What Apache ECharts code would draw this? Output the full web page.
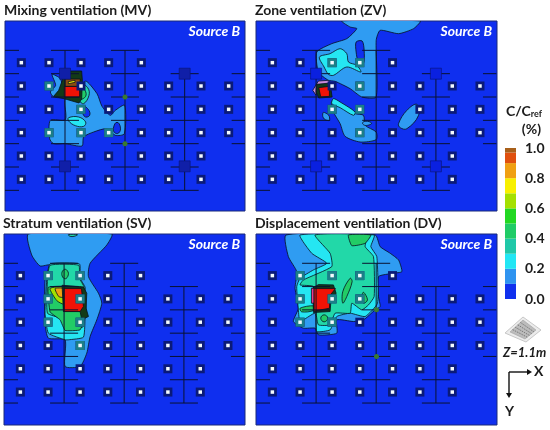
<!DOCTYPE html>
<html><head><meta charset="utf-8">
<style>html,body{margin:0;padding:0;background:#fff}#c{width:550px;height:430px}</style>
<script src="https://cdn.jsdelivr.net/npm/echarts@6/dist/echarts.min.js"></script>
</head><body><div id="c"></div>
<script>
// ---- colours for concentration levels, low to high
const BG='#0f2fef', L1='#2f9cf2', L2='#25e6f2', L3='#22d8a8', L4='#22cc66', L5='#22d822', L6='#a4e000', L7='#f6ee00', L8='#f0a012', RED='#f01206', BROWN='#8a4a12', DARK='#123a18';

// ---- panel titles
const panelTitles=['Mixing ventilation (MV)','Zone ventilation (ZV)','Stratum ventilation (SV)','Displacement ventilation (DV)'];
const sourceLabel='Source B';

// ---- room layout in room units
const diffuserCols=[49,132,228,311,409,491,588,671];
const diffuserRows=[125,195,265,335,405,475];
const colsPerRow=[5,8,8,8,7,7];
const ductCols=[180,360,539];
const ductRows=[88,158,228,298,368,438,508];
const supplyUnits=[[180,158],[539,158],[180,436],[539,436]];
const sensorsMV=[[360,228],[360,368]];
const sensorsDV=[[361,228],[361,368]];
// diffusers sitting inside the plume: [column index, row index]
const tintedMV=[[1,1],[1,3],[2,2],[2,3],[3,3]];
const tintedZV=[[2,0],[3,0],[3,1],[2,2],[3,2],[3,3]];
const tintedSV=[[1,0],[2,0],[1,1],[2,1],[1,2],[2,2],[2,3]];
const tintedDV=[[1,0],[2,0],[3,0],[1,1],[2,1],[3,1],[1,2],[2,2]];

// ---- contour polygons: [colour, smooth, points]
const contoursMV=[
 [L1,0.25,[[195,295],[195,358],[150,360],[148,415],[160,430],[195,430],[245,437],[250,410],[280,395],[320,385],[345,405],[372,400],[373,315],[345,330],[330,345],[305,318],[290,280],[255,242],[240,290]]],
 [L1,0.2,[[155,222],[180,235],[192,290],[160,290],[150,275],[166,255]]],
 [BG,0.5,[[245,318],[262,325],[268,345],[252,348]]],
 [BG,0.5,[[350,366],[360,380],[355,398],[342,396],[340,380]]],
 [L2,0.4,[[205,352],[235,350],[256,365],[250,378],[225,376],[205,362]]],
 [L3,0.4,[[240,250],[262,262],[266,285],[250,310],[238,300]]],
 [L4,0.4,[[240,262],[254,270],[256,288],[240,296]]],
 [DARK,0,[[182,212],[244,212],[246,240],[244,296],[236,308],[195,296],[160,288],[175,270],[186,240]]],
 [RED,0,[[192,258],[238,258],[238,290],[192,290]]],
 [BROWN,0,[[194,236],[240,236],[238,258],[194,258]]],
 [L7,0,[[204,244],[224,240],[224,246],[204,250]]],
];
const contoursZV=[
 [L1,0.2,[[275,62],[510,62],[490,85],[445,100],[390,90],[378,120],[378,290],[335,290],[300,265],[255,243],[235,240],[205,215],[200,155],[245,130],[290,115],[320,85],[300,80]]],
 [BG,0.3,[[318,125],[336,122],[342,150],[340,190],[325,185],[318,155]]],
 [L2,0.3,[[208,170],[240,160],[270,145],[290,160],[295,185],[320,195],[332,215],[290,200],[250,225],[235,222],[222,200]]],
 [L1,0.25,[[245,305],[315,340],[340,345],[345,375],[378,395],[378,418],[330,425],[285,408],[270,370],[250,335]]],
 [L2,0.3,[[250,295],[270,305],[315,335],[310,345],[270,322],[245,310]]],
 [L1,0.5,[[338,366],[352,363],[364,369],[352,375],[340,373]]],
 [L1,0.3,[[220,336],[236,345],[238,360],[225,358],[218,348]]],
 [L1,0.4,[[445,370],[470,330],[500,312],[505,345],[470,385],[450,382]]],
 ['#c98ad8',0,[[188,270],[205,242],[235,240],[240,250],[205,255],[198,285]]],
 [DARK,0,[[200,252],[240,248],[246,290],[206,293],[198,275]]],
 [RED,0,[[206,262],[238,258],[238,288],[212,290]]],
];
const contoursSV=[
 [L1,0.2,[[85,62],[335,62],[320,95],[270,150],[265,190],[295,240],[305,270],[290,320],[270,370],[260,420],[240,460],[195,460],[195,380],[145,375],[135,330],[135,200],[150,155],[120,158],[95,125]]],
 [L3,0.4,[[205,64],[232,64],[222,69],[210,69]]],
 [L2,0.15,[[150,152],[238,152],[240,195],[255,222],[255,300],[250,372],[205,380],[195,380],[145,360],[135,300],[140,200]]],
 [L3,0.15,[[150,156],[236,156],[238,195],[252,222],[250,340],[200,345],[180,315],[142,300],[142,205]]],
 [L4,0.4,[[186,176],[196,168],[205,180],[198,196],[188,192]]],
 [L4,0.1,[[145,222],[250,222],[258,300],[240,350],[195,352],[180,320],[150,296]]],
 [L6,0.2,[[150,226],[190,222],[190,272],[170,262]]],
 [L8,0.2,[[165,226],[190,226],[190,252],[176,250]]],
 [DARK,0,[[186,216],[250,222],[260,240],[258,285],[265,310],[245,320],[240,295],[190,295]]],
 [RED,0,[[192,226],[244,226],[250,280],[240,295],[192,295]]],
];
const contoursDV=[
 [L1,0.18,[[108,65],[375,65],[390,100],[420,120],[445,140],[455,175],[430,180],[385,190],[385,250],[390,280],[375,290],[340,320],[310,325],[260,320],[260,360],[205,365],[195,345],[160,345],[130,325],[145,285],[135,225],[140,175],[115,130]]],
 [L2,0.15,[[150,65],[372,65],[362,100],[380,130],[382,270],[345,310],[300,300],[260,310],[240,350],[200,355],[195,300],[150,325],[145,290],[140,220],[150,195],[190,170],[230,150],[185,120]]],
 [L3,0.15,[[195,65],[350,65],[345,100],[370,130],[372,250],[355,275],[335,290],[305,270],[300,300],[255,300],[240,335],[205,335],[198,300],[190,220],[150,215],[160,200],[245,160],[240,120]]],
 [L4,0.15,[[295,65],[362,65],[345,90],[305,97]]],
 [L4,0.35,[[300,195],[306,205],[290,250],[278,270],[278,235]]],
 [L4,0.35,[[340,237],[352,260],[340,270],[335,250]]],
 [L4,0.3,[[150,285],[190,278],[190,292],[155,296]]],
 [L4,0.5,[[222,305],[233,315],[222,326],[212,315]]],
 [DARK,0,[[188,224],[205,214],[250,215],[258,240],[242,270],[240,295],[190,298]]],
 ['#ee3a8a',0,[[184,225],[192,225],[192,270],[184,270]]],
 [RED,0,[[192,226],[256,226],[240,246],[238,285],[192,294]]],
];

// ---- colour bar, bottom to top
const barColors=['#1030ee','#2f94f0','#22e6f4','#20c8a8','#20cc66','#22d822','#a4e000','#f8f000','#f0a012','#e0500e','#a8601a'];
const barShares=[0.1,0.1,0.1,0.1,0.1,0.1,0.1,0.1,0.1,0.07,0.03];

// ---- panel placement: pixel box and the room extent it shows
const panels=[
 {box:[5,21,240,190],  x0:14,y0:62,w:720,h:570,data:contoursMV,units:true, sensors:sensorsMV,tint:tintedMV},
 {box:[256,21,241,190],x0:18,y0:62,w:722,h:570,data:contoursZV,units:true, sensors:[],tint:tintedZV},
 {box:[4,234,241,191], x0:12,y0:62,w:722,h:574,data:contoursSV,units:false,sensors:[],tint:tintedSV},
 {box:[256,234,241,191],x0:18,y0:62,w:722,h:574,data:contoursDV,units:false,sensors:sensorsDV,tint:tintedDV}
];

const FONT='Lato';
const INK='#1c1c1c';
const grid=[],xAxis=[],yAxis=[],series=[],title=[];
const ductSegs=[];
ductCols.forEach((c,i)=>{
  const rows=i===2?ductRows.slice(1):ductRows;
  ductSegs.push([c,rows[0],c,rows[rows.length-1]]);
  rows.forEach(r=>ductSegs.push([c-42,r,c+42,r]));
});
ductRows.forEach(r=>ductSegs.push([0,r,42,r]));
ductRows.slice(1,5).forEach(r=>ductSegs.push([680,r,720,r]));
const diffusers=[];
diffuserRows.forEach((r,i)=>{for(let k=0;k<colsPerRow[i];k++)diffusers.push([diffuserCols[k],r]);});

panels.forEach((p,i)=>{
  grid.push({left:p.box[0],top:p.box[1],width:p.box[2],height:p.box[3],show:true,backgroundColor:BG,borderColor:'#1a2a78',borderWidth:1});
  xAxis.push({type:'value',gridIndex:i,min:p.x0,max:p.x0+p.w,show:false});
  yAxis.push({type:'value',gridIndex:i,min:p.y0,max:p.y0+p.h,inverse:true,show:false});
  const polys=p.data;
  series.push({type:'custom',xAxisIndex:i,yAxisIndex:i,silent:true,z:2,clip:true,data:polys.map((_,k)=>[k]),
    renderItem:(params,api)=>{
      const q=polys[api.value(0)];
      return {type:'polygon',shape:{points:q[2].map(pt=>api.coord(pt)),smooth:q[1]},style:{fill:q[0],stroke:'#06101e',lineWidth:0.8}};
    }});
  series.push({type:'custom',xAxisIndex:i,yAxisIndex:i,silent:true,z:3,clip:true,
    data:ductSegs.map(s=>[s[0]+p.x0,s[1]+p.y0,s[2]+p.x0,s[3]+p.y0]),
    renderItem:(params,api)=>{
      const a=api.coord([api.value(0),api.value(1)]),b=api.coord([api.value(2),api.value(3)]);
      return {type:'line',shape:{x1:a[0],y1:a[1],x2:b[0],y2:b[1]},style:{stroke:'#0a1230',lineWidth:1}};
    }});
  const off=d=>d.map(q=>[q[0]+p.x0,q[1]+p.y0]);
  series.push({type:'scatter',xAxisIndex:i,yAxisIndex:i,silent:true,z:4,symbol:'rect',symbolSize:9,data:off(diffusers),itemStyle:{color:'#0a1a78',opacity:1}});
  series.push({type:'scatter',xAxisIndex:i,yAxisIndex:i,silent:true,z:4,symbol:'rect',symbolSize:9,
    data:off(p.tint.map(t=>[diffuserCols[t[0]],diffuserRows[t[1]]])),itemStyle:{color:'#1b7f88',opacity:1}});
  series.push({type:'scatter',xAxisIndex:i,yAxisIndex:i,silent:true,z:5,symbol:'rect',symbolSize:3.5,data:off(diffusers),itemStyle:{color:'#f4fbff',opacity:1}});
  if(p.units) series.push({type:'scatter',xAxisIndex:i,yAxisIndex:i,silent:true,z:4,symbol:'rect',symbolSize:11,data:off(supplyUnits),itemStyle:{color:i===0?'#101fa8':'#0a20e0',borderColor:'#0a1470',borderWidth:0.6,opacity:1}});
  if(p.sensors.length) series.push({type:'scatter',xAxisIndex:i,yAxisIndex:i,silent:true,z:4,symbolSize:5,data:off(p.sensors),itemStyle:{color:'#3a7a30',opacity:1}});
  title.push({text:panelTitles[i],left:p.box[0]-1,top:p.box[1]-18,padding:0,textStyle:{fontFamily:FONT,fontWeight:'bold',fontSize:14,color:INK}});
  title.push({text:sourceLabel,right:550-(p.box[0]+p.box[2]-5),top:p.box[1]+3,padding:0,textStyle:{fontFamily:FONT,fontWeight:'bold',fontStyle:'italic',fontSize:14,color:'#ffffff'}});
});

// colour bar grid
grid.push({left:505,top:148,width:11,height:151});
xAxis.push({type:'category',gridIndex:4,data:['C'],show:false});
yAxis.push({type:'value',gridIndex:4,min:0,max:1,interval:0.2,position:'right',
  axisLine:{show:false},axisTick:{show:false},splitLine:{show:false},
  axisLabel:{margin:9,fontFamily:FONT,fontWeight:'bold',fontSize:14,color:INK,formatter:v=>v.toFixed(1)}});
barColors.forEach((col,k)=>series.push({type:'bar',xAxisIndex:4,yAxisIndex:4,stack:'bar',barWidth:'100%',silent:true,data:[barShares[k]],itemStyle:{color:col}}));

title.push({text:'{a|C/C}{b|ref}',right:8,top:104,padding:0,textStyle:{rich:{a:{fontFamily:FONT,fontWeight:'bold',fontSize:14,color:INK},b:{fontFamily:FONT,fontWeight:'bold',fontSize:9,color:INK,verticalAlign:'bottom',padding:[6,0,0,0]}}}});
title.push({text:'(%)',right:9,top:122,padding:0,textStyle:{fontFamily:FONT,fontWeight:'bold',fontSize:14,color:INK}});
title.push({text:'Z=1.1m',left:503,top:346,padding:0,textStyle:{fontFamily:FONT,fontWeight:'bold',fontStyle:'italic',fontSize:13,color:INK}});
title.push({text:'X',left:534,top:364,padding:0,textStyle:{fontFamily:FONT,fontWeight:'bold',fontSize:14,color:INK}});
title.push({text:'Y',left:505,top:404,padding:0,textStyle:{fontFamily:FONT,fontWeight:'bold',fontSize:14,color:INK}});

// small room sketch and axis arrows
const g=[];
g.push({type:'polygon',shape:{points:[[505,333],[523,317],[541,330],[526,342]]},style:{fill:'#ececec',stroke:'#c8c8c8',lineWidth:1}});
g.push({type:'polygon',shape:{points:[[510,332],[523,320],[536,330],[525,339]]},style:{fill:'#bcbcbc',stroke:'#999',lineWidth:0.5}});
for(let k=1;k<5;k++){const t=k/5;g.push({type:'line',shape:{x1:510+13*t,y1:332-12*t,x2:525+11*t,y2:339-9*t},style:{stroke:'#787878',lineWidth:1,lineDash:[1.5,1]}});}
g.push({type:'polyline',shape:{points:[[509,372],[528,372]]},style:{stroke:'#111',lineWidth:1.4,fill:null}});
g.push({type:'polygon',shape:{points:[[532,372],[527,369],[527,375]]},style:{fill:'#111'}});
g.push({type:'polyline',shape:{points:[[509,372],[509,394]]},style:{stroke:'#111',lineWidth:1.4,fill:null}});
g.push({type:'polygon',shape:{points:[[509,398],[506,393],[512,393]]},style:{fill:'#111'}});

echarts.init(document.getElementById('c'),null,{renderer:'canvas'}).setOption({
  animation:false,backgroundColor:'#fff',tooltip:{show:false},legend:{show:false},
  title,grid,xAxis,yAxis,series,graphic:g
});
</script></body></html>
